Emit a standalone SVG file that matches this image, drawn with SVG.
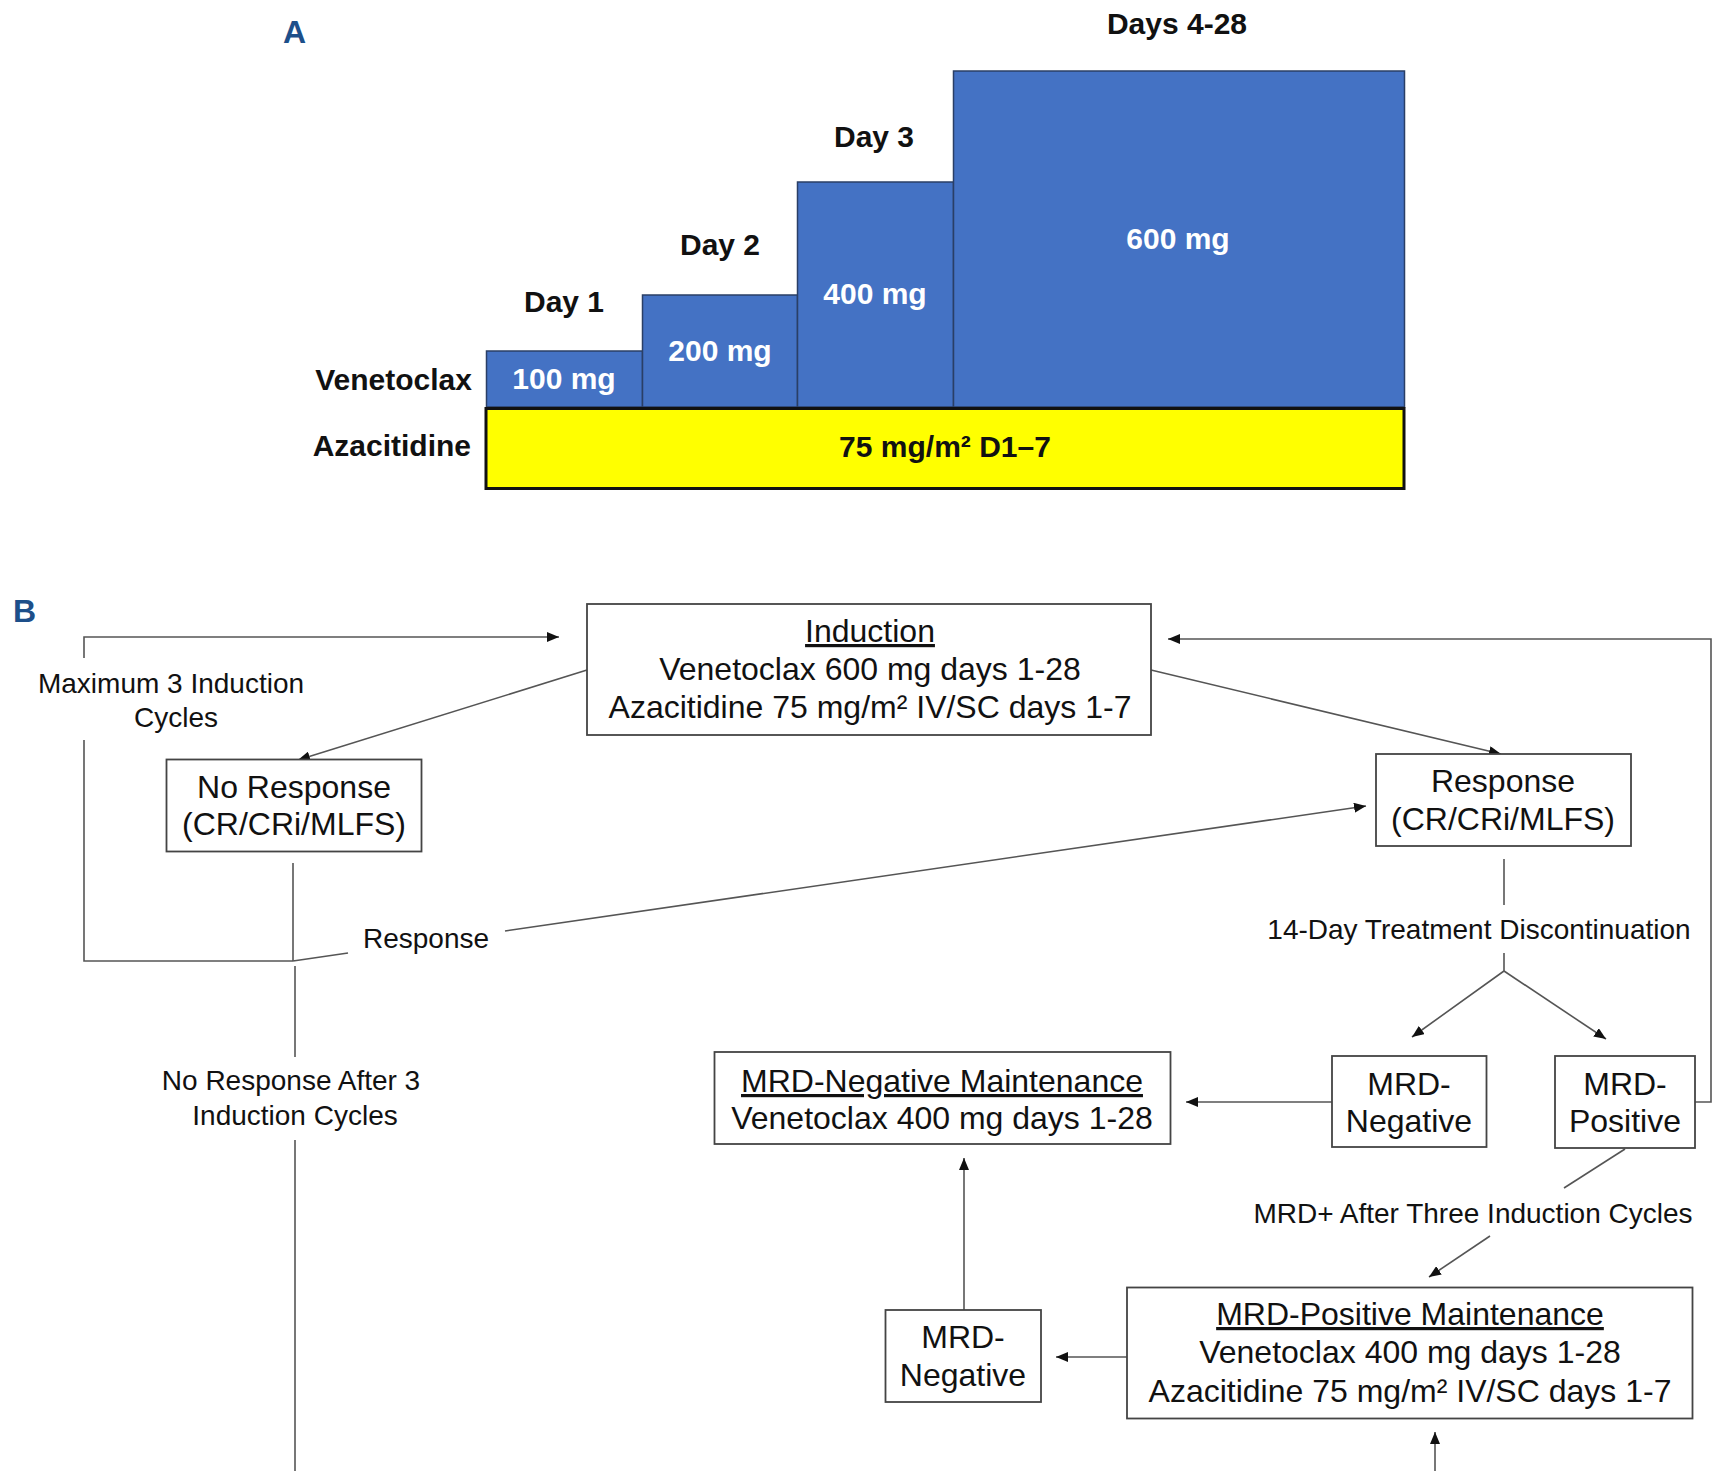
<svg xmlns="http://www.w3.org/2000/svg" width="1714" height="1471" viewBox="0 0 1714 1471">
<style>
  text { font-family: "Liberation Sans", Arial, Helvetica, sans-serif; fill: #111; }
  .panel { font-weight: bold; fill: #1d4f8a; font-size: 32px; }
  .lblA { font-weight: bold; font-size: 30px; }
  .dose { font-weight: bold; font-size: 30px; fill: #ffffff; }
  .blue { fill: #4472c4; stroke: #2a3f66; stroke-width: 1.5; }
  .yellow { fill: #ffff00; stroke: #111; stroke-width: 3; }
  .box { fill: #ffffff; stroke: #444; stroke-width: 1.8; }
  .bt { font-size: 32px; text-anchor: middle; }
  .lab { font-size: 28px; text-anchor: middle; }
  .u { text-decoration: underline; }
  .conn { fill: none; stroke: #555; stroke-width: 1.6; }
</style>
<defs>
  <marker id="arr" markerUnits="userSpaceOnUse" markerWidth="13" markerHeight="10" refX="12" refY="5" orient="auto">
    <path d="M0,0 L12,5 L0,10 z" fill="#111"/>
  </marker>
</defs>
<rect width="1714" height="1471" fill="#ffffff"/>

<!-- Panel A -->
<g id="panelA">
  <text class="panel" x="283" y="43">A</text>
  <g id="day1">
    <rect class="blue" x="486.5" y="351" width="156" height="56"/>
    <text class="lblA" x="564" y="312" text-anchor="middle">Day 1</text>
    <text class="dose" x="564" y="389" text-anchor="middle">100 mg</text>
  </g>
  <g id="day2">
    <rect class="blue" x="642.5" y="295" width="155" height="112"/>
    <text class="lblA" x="720" y="255" text-anchor="middle">Day 2</text>
    <text class="dose" x="720" y="361" text-anchor="middle">200 mg</text>
  </g>
  <g id="day3">
    <rect class="blue" x="797.5" y="182" width="156" height="225"/>
    <text class="lblA" x="874" y="147" text-anchor="middle">Day 3</text>
    <text class="dose" x="875" y="304" text-anchor="middle">400 mg</text>
  </g>
  <g id="day4">
    <rect class="blue" x="953.5" y="71" width="451" height="336"/>
    <text class="lblA" x="1177" y="34" text-anchor="middle">Days 4-28</text>
    <text class="dose" x="1178" y="249" text-anchor="middle">600 mg</text>
  </g>
  <g id="aza">
    <rect class="yellow" x="486" y="408.5" width="918" height="80"/>
    <text class="lblA" x="945" y="457" text-anchor="middle">75 mg/m² D1–7</text>
  </g>
  <text class="lblA" x="472" y="390" text-anchor="end">Venetoclax</text>
  <text class="lblA" x="471" y="456" text-anchor="end">Azacitidine</text>
</g>

<!-- Panel B -->
<text class="panel" x="13" y="622" font-size="28">B</text>

<g id="connectors">
  <path class="conn" d="M293,961 H84 V740"/>
  <path class="conn" d="M84,658 V637 H559" marker-end="url(#arr)"/>
  <path class="conn" d="M587,670 L298,760" marker-end="url(#arr)"/>
  <path class="conn" d="M293,863 V961"/>
  <path class="conn" d="M295,966 V1057"/>
  <path class="conn" d="M295,1140 V1471"/>
  <path class="conn" d="M293,961 L348,953"/>
  <path class="conn" d="M505,931 L1366,806" marker-end="url(#arr)"/>
  <path class="conn" d="M1151,670 L1501,754" marker-end="url(#arr)"/>
  <path class="conn" d="M1504,859 V905"/>
  <path class="conn" d="M1504,953 V971 L1412,1037" marker-end="url(#arr)"/>
  <path class="conn" d="M1504,971 L1606,1039" marker-end="url(#arr)"/>
  <path class="conn" d="M1332,1102 H1186" marker-end="url(#arr)"/>
  <path class="conn" d="M1695,1102 H1711 V639 H1168" marker-end="url(#arr)"/>
  <path class="conn" d="M1625,1149 L1564,1188"/>
  <path class="conn" d="M1490,1236 L1429,1277" marker-end="url(#arr)"/>
  <path class="conn" d="M1127,1357 H1056" marker-end="url(#arr)"/>
  <path class="conn" d="M964,1310 V1158" marker-end="url(#arr)"/>
  <path class="conn" d="M1435,1471 V1432" marker-end="url(#arr)"/>
</g>

<g id="labels">
  <text class="lab" x="171" y="693">Maximum 3 Induction</text>
  <text class="lab" x="176" y="727">Cycles</text>
  <text class="lab" x="426" y="948">Response</text>
  <text class="lab" x="1479" y="939">14-Day Treatment Discontinuation</text>
  <text class="lab" x="291" y="1090">No Response After 3</text>
  <text class="lab" x="295" y="1125">Induction Cycles</text>
  <text class="lab" x="1473" y="1223">MRD+ After Three Induction Cycles</text>
</g>

<g id="induction">
  <rect class="box" x="587" y="604" width="564" height="131"/>
  <text class="bt u" x="870" y="642">Induction</text>
  <text class="bt" x="870" y="680">Venetoclax 600 mg days 1-28</text>
  <text class="bt" x="870" y="718">Azacitidine 75 mg/m² IV/SC days 1-7</text>
</g>

<g id="noResponse">
  <rect class="box" x="166.5" y="759.5" width="255" height="92"/>
  <text class="bt" x="294" y="798">No Response</text>
  <text class="bt" x="294" y="835">(CR/CRi/MLFS)</text>
</g>

<g id="response">
  <rect class="box" x="1376" y="754" width="255" height="92"/>
  <text class="bt" x="1503" y="792">Response</text>
  <text class="bt" x="1503" y="830">(CR/CRi/MLFS)</text>
</g>

<g id="mrdNeg1">
  <rect class="box" x="1332" y="1056" width="154.5" height="91"/>
  <text class="bt" x="1409" y="1095">MRD-</text>
  <text class="bt" x="1409" y="1132">Negative</text>
</g>

<g id="mrdPos">
  <rect class="box" x="1555" y="1056" width="140" height="92"/>
  <text class="bt" x="1625" y="1095">MRD-</text>
  <text class="bt" x="1625" y="1132">Positive</text>
</g>

<g id="mrdNegMaint">
  <rect class="box" x="714.5" y="1052" width="456" height="92"/>
  <text class="bt u" x="942" y="1092">MRD-Negative Maintenance</text>
  <text class="bt" x="942" y="1129">Venetoclax 400 mg days 1-28</text>
</g>

<g id="mrdNeg2">
  <rect class="box" x="885.5" y="1310" width="155.5" height="92"/>
  <text class="bt" x="963" y="1348">MRD-</text>
  <text class="bt" x="963" y="1386">Negative</text>
</g>

<g id="mrdPosMaint">
  <rect class="box" x="1127" y="1287.5" width="565.5" height="131"/>
  <text class="bt u" x="1410" y="1325">MRD-Positive Maintenance</text>
  <text class="bt" x="1410" y="1363">Venetoclax 400 mg days 1-28</text>
  <text class="bt" x="1410" y="1402">Azacitidine 75 mg/m² IV/SC days 1-7</text>
</g>
</svg>
